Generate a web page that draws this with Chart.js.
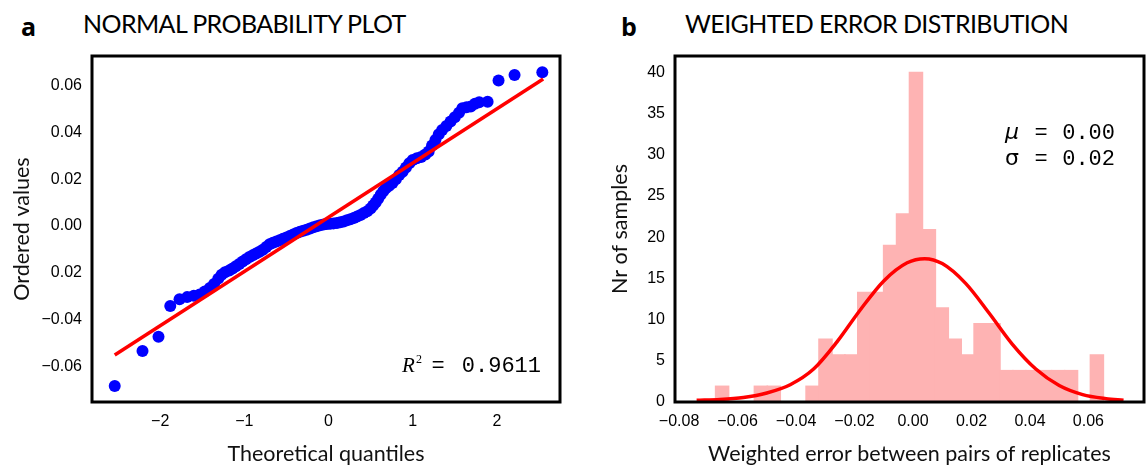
<!DOCTYPE html>
<html>
<head>
<meta charset="utf-8">
<script src="https://cdn.jsdelivr.net/npm/chart.js@4"></script>
<style>
html, body { margin: 0; padding: 0; background: #fff; }
#wrap { position: relative; width: 1147px; height: 468px; overflow: hidden; }
canvas { position: absolute; top: 0; }
.tag { position: absolute; top: 9px; font: bold 25px "Open Sans", sans-serif; color: #000; }
.title { position: absolute; top: 8px; font: 25px Lato, sans-serif; color: #000; white-space: nowrap;
         letter-spacing: -0.6px; }
</style>
</head>
<body>
<div id="wrap">
  <div class="tag" style="left:21px">a</div>
  <div class="title" style="left:83px">NORMAL PROBABILITY PLOT</div>
  <div class="tag" style="left:621px">b</div>
  <div class="title" style="left:685px">WEIGHTED ERROR DISTRIBUTION</div>
  <canvas id="qq" width="573" height="468" style="left:0"></canvas>
  <canvas id="hist" width="574" height="468" style="left:573px"></canvas>
</div>
<script>
// panel a: ordered values vs theoretical quantiles
const qqX = [-2.54, -2.21, -2.02, -1.88, -1.77, -1.68, -1.60, -1.53, -1.47, -1.41, -1.36, -1.31, -1.27,
  -1.23, -1.18, -1.14, -1.10, -1.06, -1.02, -0.98, -0.94, -0.90, -0.86, -0.82, -0.78, -0.74, -0.70,
  -0.66, -0.62, -0.58, -0.54, -0.50, -0.46, -0.42, -0.38, -0.34, -0.30, -0.26, -0.22, -0.18, -0.14,
  -0.10, -0.06, -0.02, 0.02, 0.06, 0.10, 0.14, 0.18, 0.22, 0.26, 0.30, 0.34, 0.38, 0.42, 0.46, 0.50,
  0.53, 0.56, 0.59, 0.62, 0.65, 0.68, 0.72, 0.76, 0.80, 0.84, 0.88, 0.92, 0.96, 1.00, 1.05, 1.10,
  1.15, 1.19, 1.23, 1.27, 1.31, 1.35, 1.40, 1.45, 1.50, 1.55, 1.59, 1.64, 1.69, 1.74, 1.79, 1.89,
  2.02, 2.21, 2.54];
const qqY = [-0.0684, -0.0534, -0.0473, -0.0342, -0.0313, -0.0304, -0.0298, -0.0293, -0.0280, -0.0265,
  -0.0248, -0.0225, -0.0208, -0.0198, -0.0190, -0.0182, -0.0172, -0.0163, -0.0152, -0.0142, -0.0133,
  -0.0125, -0.0118, -0.0110, -0.0102, -0.0090, -0.0078, -0.0072, -0.0066, -0.0061, -0.0055, -0.0049,
  -0.0043, -0.0036, -0.0030, -0.0025, -0.0020, -0.0016, -0.0011, -0.0006, -0.0001, 0.0003, 0.0006,
  0.0008, 0.0009, 0.0011, 0.0013, 0.0016, 0.0019, 0.0024, 0.0029, 0.0034, 0.0040, 0.0047, 0.0055,
  0.0063, 0.0075, 0.0087, 0.0100, 0.0116, 0.0133, 0.0148, 0.0161, 0.0172, 0.0183, 0.0200, 0.0218,
  0.0232, 0.0250, 0.0268, 0.0282, 0.0289, 0.0295, 0.0305, 0.0318, 0.0344, 0.0367, 0.0392, 0.0410,
  0.0427, 0.0446, 0.0464, 0.0484, 0.0503, 0.0507, 0.0510, 0.0522, 0.0528, 0.0531, 0.0621, 0.0645,
  0.0657];
const fitX = [-2.54, 2.55];
const fitY = [-0.0551, 0.0628];
const qqXTicks = [-2, -1, 0, 1, 2];
const qqXLabels = ['\u22122', '\u22121', '0', '1', '2'];
const qqYTicks = [-0.06, -0.04, -0.02, 0, 0.02, 0.04, 0.06];
const qqYLabels = ['\u22120.06', '\u22120.04', '0.02', '0.00', '0.02', '0.04', '0.06'];

// panel b: histogram of weighted error
const binCenters = [-0.06529, -0.06087, -0.05645, -0.05203, -0.04761, -0.04319, -0.03877, -0.03435,
  -0.02993, -0.02551, -0.02109, -0.01667, -0.01225, -0.00783, -0.00341, 0.00101, 0.00543, 0.00985,
  0.01427, 0.01869, 0.02311, 0.02753, 0.03195, 0.03637, 0.04079, 0.04521, 0.04963, 0.05405, 0.05847,
  0.06289];
const binCounts = [1.9, 0, 0, 1.9, 1.9, 0, 0, 1.9, 7.6, 5.7, 5.7, 13.3, 13.3, 19.0, 22.8, 40.0, 20.9,
  11.4, 7.6, 5.7, 9.5, 9.5, 3.8, 3.8, 3.8, 3.8, 3.8, 3.8, 0, 5.7];
const curveX = [-0.074, -0.066, -0.058, -0.050, -0.042, -0.034, -0.026, -0.018, -0.010, -0.002,
  0.004, 0.010, 0.018, 0.026, 0.034, 0.042, 0.050, 0.058, 0.066, 0.072];
const curveY = [0.2, 0.3, 0.55, 1.1, 2.1, 4.0, 7.3, 11.2, 14.7, 16.9, 17.4, 16.8, 14.4, 10.8, 7.0, 4.0,
  2.0, 0.9, 0.4, 0.2];
const errXTicks = [-0.08, -0.06, -0.04, -0.02, 0, 0.02, 0.04, 0.06];
const errXLabels = ['\u22120.08', '\u22120.06', '\u22120.04', '\u22120.02', '0.00', '0.02', '0.04', '0.06'];
const errYTicks = [0, 5, 10, 15, 20, 25, 30, 35, 40];
const errYLabels = ['0', '5', '10', '15', '20', '25', '30', '35', '40'];

const tickFont = { family: '"Liberation Sans", Arial, sans-serif', size: 16 };
const axisFont = { family: 'Lato, sans-serif', size: 21.5 };
const mono = '22px "Liberation Mono", monospace';

function axis(values, labels, extra) {
  return Object.assign({
    type: 'linear',
    offset: false,
    grid: { display: false, drawTicks: false },
    border: { display: false },
    afterBuildTicks: s => { s.ticks = values.map(v => ({ value: v })); },
    ticks: { font: tickFont, color: '#000', padding: 10, autoSkip: false, maxRotation: 0,
             callback: (v, i) => labels[i] }
  }, extra);
}

const frame = {
  id: 'frame',
  afterDatasetsDraw(chart) {
    const { ctx, chartArea: a } = chart;
    ctx.save();
    ctx.lineWidth = 3;
    ctx.strokeStyle = '#000';
    ctx.strokeRect(a.left, a.top, a.right - a.left, a.bottom - a.top);
    ctx.restore();
  }
};

const r2Note = {
  id: 'r2Note',
  afterDraw(chart) {
    const { ctx, chartArea: a } = chart;
    const base = a.bottom - 30;
    ctx.save();
    ctx.fillStyle = '#000';
    ctx.textBaseline = 'alphabetic';
    ctx.font = 'italic 21px "Liberation Serif", serif';
    ctx.textAlign = 'left';
    ctx.fillText('R', a.right - 158, base);
    ctx.font = '12px "Liberation Serif", serif';
    ctx.fillText('2', a.right - 144, base - 9);
    ctx.font = mono;
    ctx.textAlign = 'center';
    ctx.fillText('=', a.right - 122, base);
    ctx.textAlign = 'right';
    ctx.fillText('0.9611', a.right - 19, base);
    ctx.restore();
  }
};

const statNote = {
  id: 'statNote',
  afterDraw(chart) {
    const { ctx, chartArea: a } = chart;
    const rows = [['\u03bc', '0.00', a.top + 83], ['\u03c3', '0.02', a.top + 109]];
    ctx.save();
    ctx.fillStyle = '#000';
    ctx.textBaseline = 'alphabetic';
    rows.forEach(([sym, val, y]) => {
      ctx.font = (sym === '\u03bc' ? 'italic ' : '') + '22px "DejaVu Sans", sans-serif';
      ctx.textAlign = 'left';
      ctx.fillText(sym, a.right - 139, y);
      ctx.font = mono;
      ctx.textAlign = 'center';
      ctx.fillText('=', a.right - 103, y);
      ctx.textAlign = 'right';
      ctx.fillText(val, a.right - 29, y);
    });
    ctx.restore();
  }
};

const common = {
  responsive: false,
  animation: false,
  devicePixelRatio: 1,
  plugins: { legend: { display: false }, tooltip: { enabled: false } }
};

new Chart(document.getElementById('qq'), {
  type: 'scatter',
  data: {
    datasets: [
      { type: 'line', data: fitX.map((x, i) => ({ x, y: fitY[i] })), borderColor: '#ff0000',
        borderWidth: 3.5, pointRadius: 0, fill: false, order: 0 },
      { data: qqX.map((x, i) => ({ x, y: qqY[i] })), backgroundColor: '#0000ff', borderWidth: 0,
        pointRadius: 6, order: 1 }
    ]
  },
  options: Object.assign({}, common, {
    layout: { padding: { top: 56, right: 13, bottom: 0, left: 0 } },
    scales: {
      x: axis(qqXTicks, qqXLabels, {
        min: -2.81, max: 2.75,
        afterFit: s => { s.height = 66; },
        title: { display: true, text: 'Theoretical quantiles', font: axisFont, color: '#111',
                 padding: { top: 0, bottom: 1 } }
      }),
      y: axis(qqYTicks, qqYLabels, {
        min: -0.0752, max: 0.0726,
        afterFit: s => { s.width = 92; },
        title: { display: true, text: 'Ordered values', font: axisFont, color: '#111',
                 padding: { top: 9, bottom: 0 } }
      })
    }
  }),
  plugins: [frame, r2Note]
});

new Chart(document.getElementById('hist'), {
  type: 'bar',
  data: {
    datasets: [
      { type: 'line', data: curveX.map((x, i) => ({ x, y: curveY[i] })), borderColor: '#ff0000',
        borderWidth: 3.5, pointRadius: 0, fill: false, cubicInterpolationMode: 'monotone', order: 0 },
      { type: 'bar', data: binCenters.map((x, i) => ({ x, y: binCounts[i] })),
        backgroundColor: '#feb3b3', borderWidth: 0, inflateAmount: 0.8, barPercentage: 1,
        categoryPercentage: 1, order: 1 }
    ]
  },
  options: Object.assign({}, common, {
    layout: { padding: { top: 56, right: 3, bottom: 0, left: 0 } },
    scales: {
      x: axis(errXTicks, errXLabels, {
        min: -0.0814, max: 0.079,
        afterFit: s => { s.height = 66; },
        title: { display: true, text: 'Weighted error between pairs of replicates', font: axisFont,
                 color: '#111', padding: { top: 0, bottom: 1 } }
      }),
      y: axis(errYTicks, errYLabels, {
        min: 0, max: 42,
        afterFit: s => { s.width = 102; },
        title: { display: true, text: 'Nr of samples', font: axisFont, color: '#111',
                 padding: { top: 34, bottom: 0 } }
      })
    }
  }),
  plugins: [frame, statNote]
});
</script>
</body>
</html>
